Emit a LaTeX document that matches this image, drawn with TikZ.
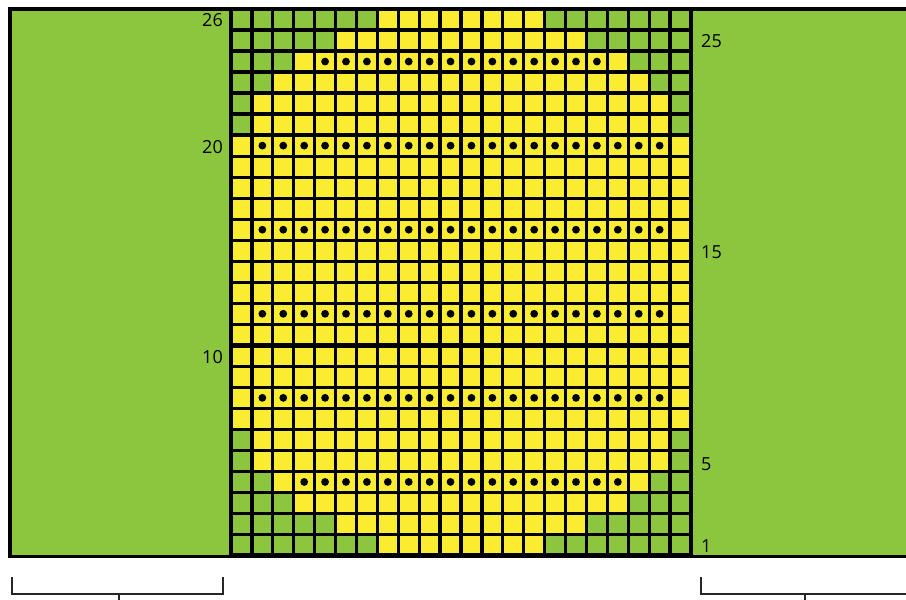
\documentclass[tikz,border=0pt]{standalone}
\usepackage{fontspec}
\setmainfont{Open Sans}
\definecolor{lg}{HTML}{8CC63F}
\definecolor{yl}{HTML}{F9EC31}
\begin{document}
\begin{tikzpicture}[x=1pt,y=-1pt,
  gridthin/.style={line width=3.2pt,black},
  gridthick/.style={line width=4.6pt,black},
  frameline/.style={line width=3.4pt,black},
  rowlabel/.style={font=\fontsize{18}{18}\selectfont,inner sep=0pt},
  bracketline/.style={line width=2pt,black!85}]
\useasboundingbox (0,0) rectangle (906,600);
\clip (0,0) rectangle (906,600);
\def\gx{231}
\def\gt{9}
\def\gb{555.5}
\def\cw{20.909}
\def\ch{21.0192}
% background panels
\fill[lg] (10,9) rectangle (910,556);
\fill[yl] (\gx,\gt) rectangle ({\gx+22*\cw},\gb);
% green cells
\foreach \r/\n in {1/7,2/5,3/3,4/2,5/1,6/1,21/1,22/1,23/2,24/3,25/5,26/7} {
  \fill[lg] (\gx,{\gb-\r*\ch}) rectangle ({\gx+\n*\cw},{\gb-(\r-1)*\ch});
  \fill[lg] ({\gx+(22-\n)*\cw},{\gb-\r*\ch}) rectangle ({\gx+22*\cw},{\gb-(\r-1)*\ch});
}
% dots
\foreach \r/\a/\b in {4/4/19,8/2/21,12/2/21,16/2/21,20/2/21,24/5/18} {
  \foreach \c in {\a,...,\b} {
    \fill[black] ({\gx+(\c-0.5)*\cw},{\gb-(\r-0.5)*\ch}) circle (3.9);
  }
}
% grid lines
\foreach \k in {1,...,21} {
  \draw[gridthin] ({\gx+\k*\cw},\gt) -- ({\gx+\k*\cw},\gb);
}
\foreach \k in {1,...,25} {
  \draw[gridthin] (\gx,{\gb-\k*\ch}) -- ({\gx+22*\cw},{\gb-\k*\ch});
}
\foreach \k in {10,20} {
  \draw[gridthick] (\gx,{\gb-\k*\ch}) -- ({\gx+22*\cw},{\gb-\k*\ch});
}
\draw[gridthick] (\gx,\gt) rectangle ({\gx+22*\cw},\gb);
% outer frame
\draw[frameline] (910,9) -- (10,9) -- (10,556.5) -- (910,556.5);
% row labels
\node[rowlabel,anchor=east] (l26) at (223,{\gb-25.5*\ch+1}) {26};
\node[rowlabel,anchor=east] (l20) at (223,{\gb-19.5*\ch+1}) {20};
\node[rowlabel,anchor=east] (l10) at (223,{\gb-9.5*\ch+1}) {10};
\node[rowlabel,anchor=west] (r25) at (701,{\gb-24.5*\ch+1}) {25};
\node[rowlabel,anchor=west] (r15) at (701,{\gb-14.5*\ch+1}) {15};
\node[rowlabel,anchor=west] (r5) at (701,{\gb-4.5*\ch+3}) {5};
\node[rowlabel,anchor=west] (r1) at (701,{\gb-0.5*\ch+1}) {1};
% brackets
\draw[bracketline] (12,577) -- (12,594) -- (223,594) -- (223,577);
\draw[bracketline] (119,594) -- (119,601);
\draw[bracketline] (701,577) -- (701,594) -- (910,594);
\draw[bracketline] (805,594) -- (805,601);
\end{tikzpicture}
\end{document}
